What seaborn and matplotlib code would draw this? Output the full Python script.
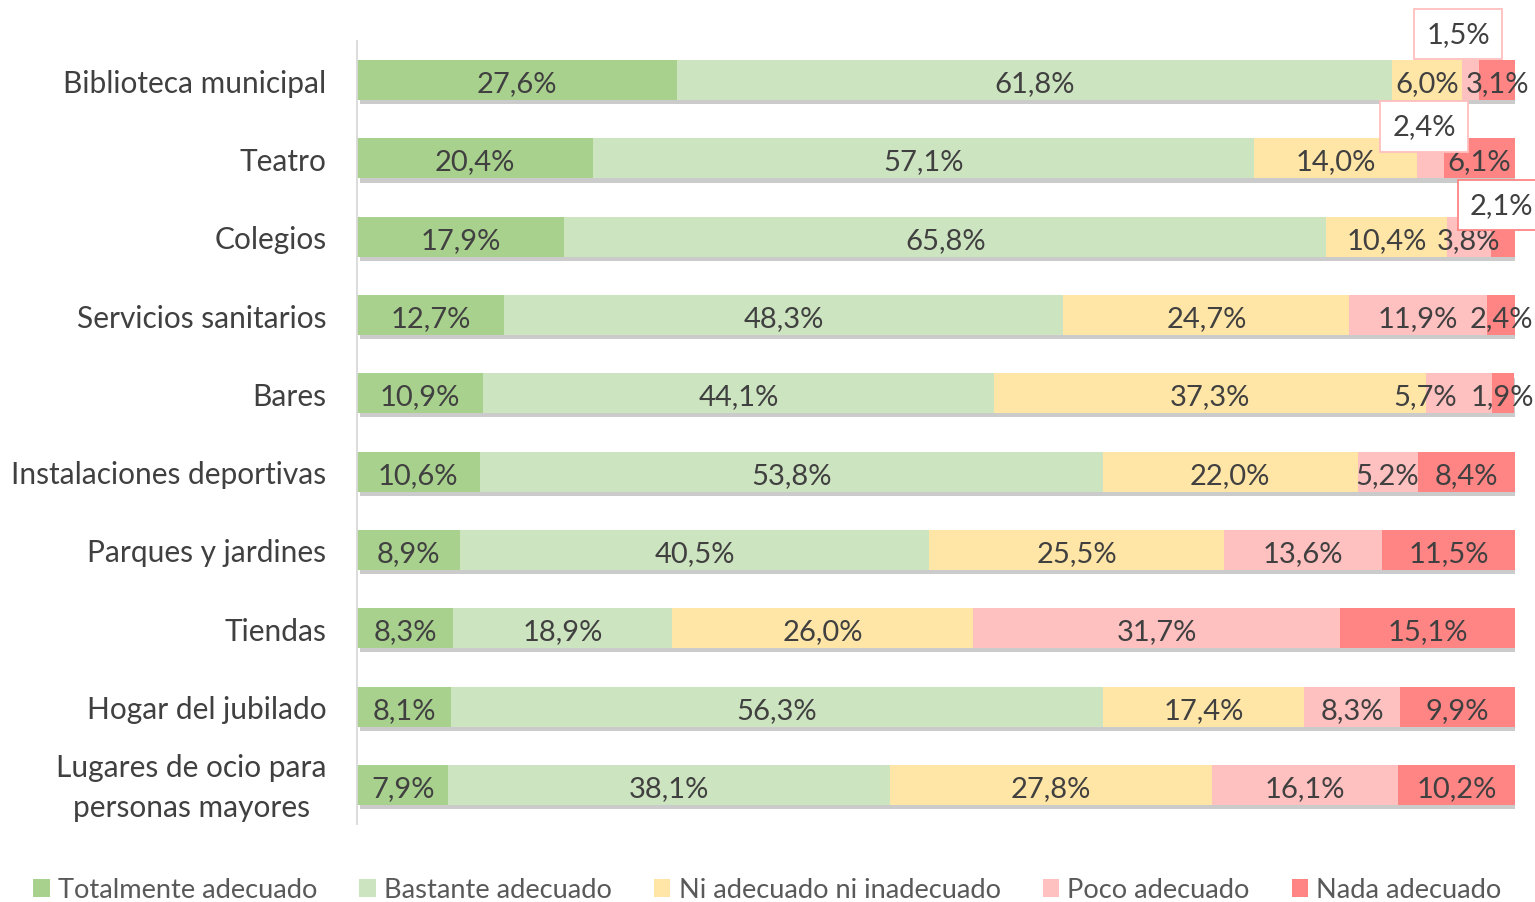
import matplotlib
matplotlib.use("Agg")
import matplotlib.pyplot as plt
import matplotlib.patheffects as pe
import matplotlib.transforms as mtransforms
from matplotlib.patches import Patch
import numpy as np
import pandas as pd
import seaborn as sns

categories = ["Biblioteca municipal", "Teatro", "Colegios", "Servicios sanitarios", "Bares",
              "Instalaciones deportivas", "Parques y jardines", "Tiendas", "Hogar del jubilado",
              "Lugares de ocio para\npersonas mayores"]
series = ["Totalmente adecuado", "Bastante adecuado", "Ni adecuado ni inadecuado",
          "Poco adecuado", "Nada adecuado"]
totalmente = [27.6, 20.4, 17.9, 12.7, 10.9, 10.6, 8.9, 8.3, 8.1, 7.9]
bastante = [61.8, 57.1, 65.8, 48.3, 44.1, 53.8, 40.5, 18.9, 56.3, 38.1]
ni = [6.0, 14.0, 10.4, 24.7, 37.3, 22.0, 25.5, 26.0, 17.4, 27.8]
poco = [1.5, 2.4, 3.8, 11.9, 5.7, 5.2, 13.6, 31.7, 8.3, 16.1]
nada = [3.1, 6.1, 2.1, 2.4, 1.9, 8.4, 11.5, 15.1, 9.9, 10.2]

colors = ["#A9D18E", "#CDE4C0", "#FFE6A6", "#FFC0C0", "#FF8585"]
values = np.array([totalmente, bastante, ni, poco, nada])

sns.set_theme(style="white")
plt.rcParams["font.family"] = ["Lato", "DejaVu Sans"]

fig = plt.figure(figsize=(15.35, 9.03), dpi=100)
ax = fig.add_axes([357 / 1535, 1 - 825 / 903, (1515 - 357) / 1535, (825 - 42) / 903])

cum = np.cumsum(values, axis=0)
for i in range(4, -1, -1):
    df = pd.DataFrame({"cat": categories, "val": cum[i]})
    sns.barplot(data=df, x="val", y="cat", orient="h", color=colors[i], saturation=1,
                width=0.51, linewidth=0, ax=ax)
    if i == 4:
        for p in ax.patches:
            p.set_path_effects([pe.SimplePatchShadow(offset=(2.5, -3), shadow_rgbFace="#7f7f7f", alpha=0.4),
                                pe.Normal()])

ax.set_xlim(0, 100)
ax.set_xlabel("")
ax.set_ylabel("")
ax.set_xticks([])
for s in ["top", "right", "bottom"]:
    ax.spines[s].set_visible(False)
ax.spines["left"].set_color("#D9D9D9")
ax.spines["left"].set_linewidth(1.3)
ax.tick_params(axis="y", length=0, pad=22, labelsize=21.5, labelcolor="#404040")
for lab in ax.get_yticklabels():
    lab.set_multialignment("center")
    lab.set_linespacing(1.5)
    if "\n" in lab.get_text():
        lab.set_transform(lab.get_transform() +
                          mtransforms.ScaledTranslation(0, 6 / 100, fig.dpi_scale_trans))

# data labels
callouts = {(0, 3): (-12, 48, "#FFBFBF"), (1, 3): (-6, 34, "#FFBFBF"), (2, 4): (-1, 34, "#FF8585")}
shifts = {(4, 3): -34}
for r in range(len(categories)):
    for s in range(5):
        v = values[s, r]
        center = cum[s, r] - v / 2
        txt = f"{v:.1f}%".replace(".", ",")
        if (r, s) in callouts:
            dx, dy, ec = callouts[(r, s)]
            ax.annotate(txt, xy=(center, r), xytext=(dx, dy - 2), textcoords="offset pixels",
                        ha="center", va="center", fontsize=21, color="#404040",
                        bbox=dict(boxstyle="square,pad=0.42", fc="white", ec=ec, lw=1.3),
                        annotation_clip=False, zorder=5)
        else:
            dx = shifts.get((r, s), 0)
            ax.annotate(txt, xy=(center, r), xytext=(dx, -3), textcoords="offset pixels",
                        ha="center", va="center", fontsize=21, color="#404040",
                        annotation_clip=False, zorder=4)

handles = [Patch(facecolor=c, edgecolor="none") for c in colors]
fig.legend(handles, series, loc="center", bbox_to_anchor=(0.5, 1 - 891 / 903), ncol=5,
           frameon=False, fontsize=19.6, handlelength=0.6, handleheight=0.6,
           handletextpad=0.3, columnspacing=1.55, labelcolor="#595959")

fig.savefig("out.png", dpi=100)
